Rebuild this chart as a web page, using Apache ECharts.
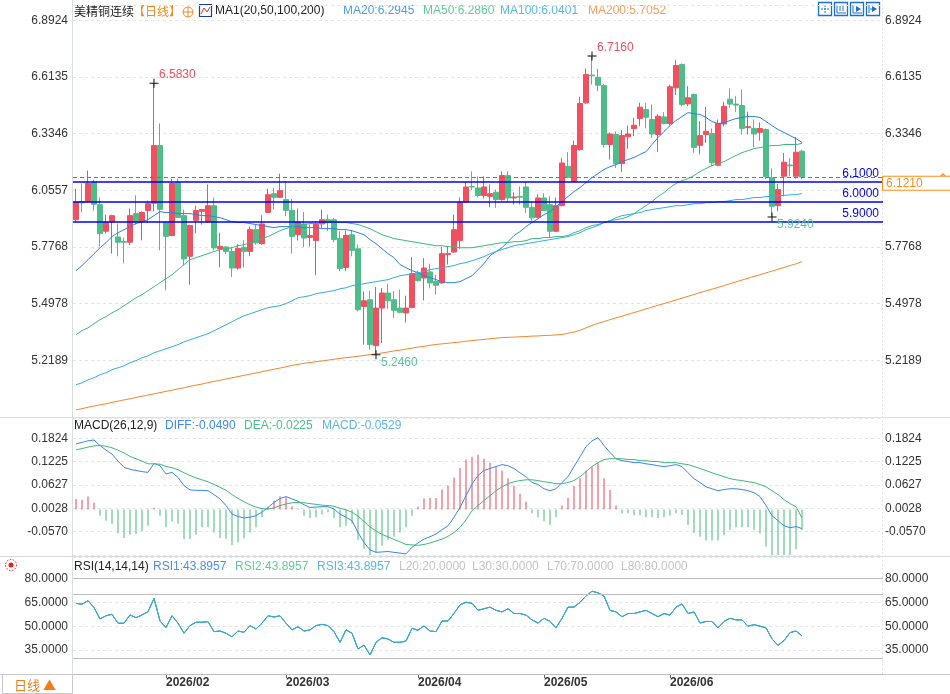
<!DOCTYPE html>
<html>
<head>
<meta charset="utf-8">
<script src="https://cdn.jsdelivr.net/npm/echarts@6/dist/echarts.min.js"></script>
<style>
html, body { margin: 0; padding: 0; background: #fff; }
#chart { width: 950px; height: 694px; }
</style>
</head>
<body>
<div id="chart"></div>
<script>
// ---------- data ----------
const slotCount = 135; // 122 trading days + empty space on the right
const monthTicks = [15, 35, 57, 78, 99];
const monthLabels = ['2026/02', '2026/03', '2026/04', '2026/05', '2026/06'];

const opens = [5.911, 6.000, 6.001, 6.095, 5.985, 5.854, 5.901, 5.826, 5.804, 5.800, 5.941, 5.901, 5.956, 5.992, 6.276, 5.898, 5.833, 6.095, 5.931, 5.731,
  5.908, 5.952, 5.901, 5.980, 5.767, 5.777, 5.755, 5.673, 5.775, 5.755, 5.862, 5.793, 5.947, 6.039, 6.021, 6.010, 5.957, 5.837, 5.890, 5.824,
  5.809, 5.890, 5.911, 5.911, 5.818, 5.676, 5.837, 5.768, 5.484, 5.517, 5.291, 5.476, 5.550, 5.517, 5.476, 5.452, 5.479, 5.645, 5.624, 5.654,
  5.607, 5.600, 5.740, 5.752, 5.809, 5.998, 6.075, 6.067, 6.030, 6.026, 6.046, 6.010, 6.128, 6.018, 6.026, 6.072, 5.972, 5.923, 6.018, 5.985,
  5.854, 5.980, 6.174, 6.100, 6.256, 6.486, 6.623, 6.612, 6.571, 6.281, 6.330, 6.187, 6.319, 6.360, 6.409, 6.453, 6.404, 6.330, 6.417, 6.384,
  6.560, 6.675, 6.481, 6.527, 6.277, 6.330, 6.335, 6.179, 6.382, 6.504, 6.480, 6.473, 6.364, 6.360, 6.341, 6.355, 6.117, 5.980, 6.125, 6.180,
  6.125, 6.248];
const closes = [5.997, 5.994, 6.089, 5.987, 5.842, 5.898, 5.931, 5.800, 5.800, 5.931, 5.901, 5.946, 5.990, 6.276, 5.962, 5.829, 6.089, 5.922, 5.718, 5.882,
  5.956, 5.961, 5.980, 5.772, 5.780, 5.755, 5.673, 5.770, 5.755, 5.862, 5.797, 5.890, 6.034, 6.021, 6.054, 5.957, 5.829, 5.900, 5.821, 5.833,
  5.890, 5.911, 5.900, 5.813, 5.670, 5.834, 5.760, 5.468, 5.512, 5.296, 5.476, 5.550, 5.512, 5.465, 5.455, 5.476, 5.645, 5.612, 5.673, 5.600,
  5.588, 5.744, 5.744, 5.862, 5.997, 6.072, 6.072, 6.030, 6.072, 6.039, 6.010, 6.128, 6.018, 6.023, 6.022, 5.972, 5.920, 6.018, 5.956, 5.854,
  5.980, 6.190, 6.120, 6.276, 6.483, 6.626, 6.619, 6.573, 6.281, 6.333, 6.187, 6.325, 6.333, 6.376, 6.465, 6.415, 6.333, 6.420, 6.384, 6.565,
  6.670, 6.478, 6.511, 6.267, 6.325, 6.346, 6.191, 6.384, 6.469, 6.480, 6.475, 6.360, 6.369, 6.333, 6.360, 6.122, 5.977, 6.059, 6.194, 6.176,
  6.243, 6.121];
const lows = [5.903, 5.949, 5.995, 5.956, 5.780, 5.842, 5.744, 5.731, 5.696, 5.785, 5.888, 5.809, 5.895, 5.952, 5.760, 5.563, 5.829, 5.920, 5.686, 5.591,
  5.844, 5.887, 5.895, 5.760, 5.676, 5.742, 5.629, 5.665, 5.676, 5.731, 5.788, 5.788, 5.944, 5.961, 6.018, 5.928, 5.744, 5.809, 5.777, 5.780,
  5.637, 5.870, 5.854, 5.800, 5.657, 5.657, 5.731, 5.460, 5.296, 5.271, 5.246, 5.304, 5.473, 5.427, 5.450, 5.405, 5.475, 5.605, 5.514, 5.573,
  5.542, 5.595, 5.690, 5.747, 5.767, 5.995, 6.056, 6.021, 6.015, 5.972, 5.969, 6.005, 6.000, 5.985, 5.985, 5.944, 5.906, 5.920, 5.953, 5.821,
  5.852, 5.977, 6.115, 6.095, 6.251, 6.481, 6.576, 6.543, 6.265, 6.207, 6.166, 6.146, 6.260, 6.322, 6.371, 6.360, 6.314, 6.245, 6.380, 6.376,
  6.524, 6.469, 6.470, 6.240, 6.232, 6.289, 6.174, 6.174, 6.370, 6.461, 6.440, 6.330, 6.330, 6.267, 6.300, 6.110, 5.924, 5.952, 6.026, 6.125,
  6.113, 6.110];
const highs = [6.063, 6.089, 6.153, 6.108, 6.020, 5.936, 5.936, 5.892, 5.823, 5.966, 6.031, 5.952, 6.005, 6.583, 6.384, 5.898, 6.113, 6.113, 5.961, 5.886,
  5.980, 5.961, 6.084, 6.020, 5.847, 5.780, 5.777, 5.792, 5.809, 5.878, 5.884, 5.933, 6.064, 6.067, 6.138, 6.100, 6.013, 5.966, 5.949, 5.887,
  5.903, 5.961, 5.936, 5.920, 5.854, 5.857, 5.860, 5.788, 5.558, 5.562, 5.580, 5.575, 5.596, 5.560, 5.567, 5.537, 5.728, 5.660, 5.722, 5.695,
  5.640, 5.778, 5.780, 5.936, 6.021, 6.097, 6.149, 6.125, 6.125, 6.084, 6.059, 6.149, 6.149, 6.046, 6.075, 6.095, 6.000, 6.036, 6.041, 6.026,
  6.020, 6.215, 6.243, 6.300, 6.516, 6.655, 6.716, 6.654, 6.580, 6.340, 6.345, 6.352, 6.374, 6.412, 6.486, 6.486, 6.478, 6.430, 6.440, 6.576,
  6.696, 6.680, 6.568, 6.532, 6.396, 6.466, 6.360, 6.404, 6.491, 6.557, 6.519, 6.552, 6.442, 6.404, 6.390, 6.360, 6.163, 6.087, 6.240, 6.215,
  6.319, 6.256];

const ma20 = [5.660, 5.685, 5.714, 5.744, 5.773, 5.798, 5.828, 5.847, 5.862, 5.877, 5.892, 5.901, 5.911, 5.931, 5.951, 5.946, 5.946, 5.941, 5.941, 5.941,
  5.936, 5.931, 5.931, 5.926, 5.921, 5.911, 5.901, 5.897, 5.897, 5.892, 5.887, 5.882, 5.877, 5.872, 5.877, 5.877, 5.877, 5.877, 5.872, 5.872,
  5.872, 5.867, 5.867, 5.867, 5.862, 5.862, 5.857, 5.847, 5.837, 5.813, 5.793, 5.768, 5.744, 5.724, 5.690, 5.675, 5.660, 5.650, 5.635, 5.626,
  5.616, 5.606, 5.601, 5.601, 5.606, 5.621, 5.635, 5.665, 5.695, 5.734, 5.754, 5.773, 5.803, 5.833, 5.852, 5.877, 5.897, 5.916, 5.936, 5.951,
  5.975, 6.000, 6.025, 6.049, 6.069, 6.094, 6.118, 6.138, 6.158, 6.172, 6.182, 6.197, 6.207, 6.217, 6.232, 6.246, 6.281, 6.315, 6.345, 6.374,
  6.399, 6.419, 6.438, 6.433, 6.429, 6.414, 6.394, 6.384, 6.389, 6.399, 6.409, 6.414, 6.419, 6.419, 6.414, 6.394, 6.374, 6.355, 6.340, 6.325,
  6.310, 6.291];
const ma50 = [5.345, 5.365, 5.379, 5.399, 5.419, 5.434, 5.453, 5.468, 5.488, 5.507, 5.527, 5.542, 5.562, 5.581, 5.601, 5.621, 5.640, 5.665, 5.690, 5.714,
  5.724, 5.734, 5.744, 5.754, 5.764, 5.768, 5.773, 5.783, 5.788, 5.798, 5.803, 5.818, 5.828, 5.842, 5.857, 5.867, 5.877, 5.887, 5.887, 5.892,
  5.892, 5.892, 5.897, 5.897, 5.897, 5.897, 5.892, 5.887, 5.877, 5.867, 5.852, 5.837, 5.828, 5.818, 5.813, 5.808, 5.803, 5.798, 5.793, 5.788,
  5.783, 5.783, 5.778, 5.778, 5.773, 5.773, 5.773, 5.778, 5.783, 5.788, 5.793, 5.798, 5.798, 5.803, 5.803, 5.808, 5.818, 5.818, 5.823, 5.823,
  5.828, 5.828, 5.833, 5.847, 5.857, 5.872, 5.882, 5.887, 5.897, 5.906, 5.911, 5.916, 5.926, 5.941, 5.961, 5.980, 6.000, 6.025, 6.044, 6.069,
  6.089, 6.103, 6.113, 6.128, 6.148, 6.163, 6.177, 6.187, 6.197, 6.212, 6.227, 6.241, 6.251, 6.261, 6.266, 6.271, 6.276, 6.276, 6.281, 6.281,
  6.281, 6.286];
const ma100 = [5.099, 5.108, 5.123, 5.133, 5.148, 5.158, 5.173, 5.182, 5.192, 5.207, 5.217, 5.232, 5.241, 5.256, 5.266, 5.276, 5.286, 5.296, 5.310, 5.320,
  5.330, 5.340, 5.350, 5.365, 5.379, 5.394, 5.409, 5.424, 5.438, 5.448, 5.458, 5.468, 5.478, 5.483, 5.488, 5.498, 5.512, 5.527, 5.532, 5.537,
  5.547, 5.552, 5.557, 5.562, 5.571, 5.576, 5.586, 5.591, 5.596, 5.601, 5.606, 5.611, 5.616, 5.626, 5.635, 5.640, 5.645, 5.650, 5.655, 5.665,
  5.670, 5.675, 5.680, 5.685, 5.695, 5.700, 5.709, 5.719, 5.729, 5.744, 5.754, 5.764, 5.773, 5.783, 5.788, 5.793, 5.798, 5.803, 5.808, 5.813,
  5.818, 5.823, 5.828, 5.837, 5.847, 5.862, 5.872, 5.882, 5.897, 5.906, 5.921, 5.931, 5.936, 5.941, 5.946, 5.956, 5.961, 5.966, 5.970, 5.975,
  5.980, 5.980, 5.985, 5.990, 5.990, 5.995, 5.995, 6.000, 6.000, 6.005, 6.010, 6.010, 6.015, 6.020, 6.020, 6.025, 6.025, 6.030, 6.030, 6.034,
  6.034, 6.040];
const ma200 = [4.975, 4.981, 4.988, 4.994, 5.000, 5.005, 5.012, 5.018, 5.024, 5.030, 5.036, 5.042, 5.048, 5.054, 5.060, 5.066, 5.072, 5.078, 5.084, 5.091,
  5.097, 5.102, 5.109, 5.115, 5.121, 5.127, 5.133, 5.139, 5.145, 5.151, 5.157, 5.163, 5.169, 5.175, 5.181, 5.187, 5.194, 5.199, 5.204, 5.208,
  5.212, 5.216, 5.220, 5.224, 5.228, 5.232, 5.235, 5.239, 5.243, 5.247, 5.251, 5.255, 5.260, 5.265, 5.269, 5.274, 5.279, 5.284, 5.288, 5.293,
  5.297, 5.300, 5.303, 5.306, 5.309, 5.313, 5.316, 5.319, 5.322, 5.325, 5.328, 5.331, 5.332, 5.333, 5.335, 5.336, 5.338, 5.339, 5.341, 5.342,
  5.344, 5.346, 5.352, 5.358, 5.367, 5.379, 5.390, 5.401, 5.410, 5.419, 5.428, 5.436, 5.445, 5.454, 5.463, 5.472, 5.481, 5.490, 5.498, 5.507,
  5.516, 5.525, 5.534, 5.543, 5.552, 5.561, 5.569, 5.578, 5.587, 5.596, 5.605, 5.614, 5.623, 5.632, 5.640, 5.649, 5.658, 5.667, 5.676, 5.685,
  5.694, 5.705];

const diff = [0.168, 0.172, 0.176, 0.178, 0.164, 0.152, 0.142, 0.124, 0.108, 0.103, 0.100, 0.097, 0.095, 0.118, 0.112, 0.091, 0.095, 0.082, 0.061, 0.050,
  0.049, 0.049, 0.048, 0.038, 0.027, 0.010, -0.012, -0.018, -0.022, -0.020, -0.016, -0.007, 0.005, 0.018, 0.028, 0.033, 0.027, 0.021, 0.012, 0.005,
  0.006, 0.007, 0.007, 0.001, -0.012, -0.020, -0.029, -0.059, -0.085, -0.104, -0.110, -0.109, -0.108, -0.110, -0.112, -0.114, -0.097, -0.086, -0.076, -0.070,
  -0.063, -0.052, -0.042, -0.020, 0.005, 0.035, 0.065, 0.087, 0.100, 0.105, 0.110, 0.115, 0.112, 0.105, 0.094, 0.084, 0.069, 0.064, 0.053, 0.048,
  0.053, 0.069, 0.084, 0.110, 0.135, 0.161, 0.176, 0.184, 0.164, 0.146, 0.130, 0.125, 0.123, 0.120, 0.120, 0.117, 0.115, 0.112, 0.110, 0.112,
  0.115, 0.110, 0.094, 0.079, 0.069, 0.058, 0.053, 0.048, 0.051, 0.053, 0.053, 0.051, 0.048, 0.043, 0.033, 0.010, -0.016, -0.029, -0.042, -0.047,
  -0.044, -0.049];
const dea = [0.153, 0.156, 0.160, 0.163, 0.164, 0.162, 0.158, 0.152, 0.145, 0.136, 0.130, 0.124, 0.117, 0.117, 0.116, 0.110, 0.107, 0.102, 0.094, 0.087,
  0.081, 0.076, 0.071, 0.064, 0.057, 0.049, 0.038, 0.028, 0.020, 0.012, 0.006, 0.002, 0.001, 0.004, 0.010, 0.014, 0.017, 0.018, 0.017, 0.015,
  0.013, 0.011, 0.010, 0.008, 0.003, -0.001, -0.007, -0.017, -0.031, -0.045, -0.055, -0.064, -0.070, -0.077, -0.083, -0.090, -0.091, -0.092, -0.090, -0.086,
  -0.081, -0.076, -0.069, -0.059, -0.046, -0.027, -0.003, 0.010, 0.023, 0.035, 0.048, 0.058, 0.066, 0.071, 0.074, 0.076, 0.076, 0.074, 0.071, 0.069,
  0.066, 0.066, 0.069, 0.074, 0.084, 0.097, 0.110, 0.120, 0.128, 0.130, 0.130, 0.130, 0.128, 0.128, 0.125, 0.125, 0.123, 0.123, 0.120, 0.120,
  0.120, 0.117, 0.115, 0.110, 0.105, 0.100, 0.094, 0.089, 0.084, 0.079, 0.076, 0.074, 0.071, 0.069, 0.064, 0.058, 0.048, 0.038, 0.025, 0.015,
  0.007, -0.022];
const macdHist = [0.027, 0.024, 0.033, 0.018, -0.016, -0.029, -0.037, -0.061, -0.073, -0.065, -0.063, -0.056, -0.042, 0.004, -0.016, -0.046, -0.031, -0.037, -0.076, -0.076,
  -0.065, -0.046, -0.046, -0.059, -0.073, -0.076, -0.091, -0.085, -0.074, -0.059, -0.046, -0.020, 0.006, 0.023, 0.034, 0.031, 0.008, 0.002, -0.016, -0.022,
  -0.020, -0.013, -0.007, -0.022, -0.046, -0.042, -0.037, -0.078, -0.101, -0.118, -0.110, -0.093, -0.078, -0.070, -0.059, -0.046, -0.016, 0.007, 0.028, 0.029,
  0.029, 0.051, 0.061, 0.082, 0.106, 0.128, 0.135, 0.140, 0.130, 0.120, 0.110, 0.100, 0.080, 0.060, 0.040, 0.020, -0.010, -0.020, -0.030, -0.040,
  -0.020, 0.010, 0.030, 0.060, 0.080, 0.100, 0.110, 0.120, 0.080, 0.050, 0.010, -0.010, -0.010, -0.015, -0.015, -0.020, -0.020, -0.022, -0.020, -0.016,
  -0.010, -0.014, -0.040, -0.060, -0.070, -0.080, -0.080, -0.080, -0.066, -0.052, -0.046, -0.046, -0.046, -0.052, -0.062, -0.096, -0.128, -0.134, -0.134, -0.124,
  -0.102, -0.053];

const rsi = [64.4, 63.8, 66.1, 61.7, 54.6, 56.6, 57.5, 51.9, 51.9, 57.1, 55.4, 57.1, 59.1, 67.5, 53.3, 49.1, 56.6, 51.9, 45.6, 50.4,
  52.5, 52.5, 52.9, 46.6, 47.0, 45.6, 43.4, 47.0, 46.2, 50.4, 48.3, 51.9, 56.6, 55.8, 56.6, 51.9, 47.7, 49.7, 47.0, 47.7,
  50.4, 51.2, 50.4, 46.6, 39.9, 47.7, 45.6, 35.7, 38.2, 32.0, 39.9, 42.8, 42.0, 39.9, 39.9, 40.7, 48.7, 47.5, 50.2, 47.0,
  46.6, 53.3, 53.3, 58.1, 63.4, 65.1, 64.4, 60.0, 61.0, 62.0, 60.0, 59.0, 61.0, 58.0, 58.0, 57.0, 54.0, 52.0, 55.0, 53.0,
  49.0, 55.0, 62.0, 62.0, 65.0, 69.0, 72.0, 71.0, 69.0, 60.0, 59.0, 56.0, 58.0, 58.0, 59.0, 60.0, 58.0, 56.0, 58.0, 57.0,
  62.0, 64.0, 58.0, 59.0, 52.0, 53.0, 53.0, 49.0, 53.0, 55.0, 54.0, 54.0, 50.0, 51.0, 50.0, 49.0, 42.0, 38.0, 41.0, 46.0,
  47.0, 43.9];

const levels = [6.1, 6.0, 5.9];
const rsiLevels = [20, 30, 70, 80];

// ---------- chart ----------
const NUM = '"Liberation Sans", Arial, sans-serif';
const CJK = '"Noto Sans CJK SC", sans-serif';
const UP = '#f0505f', DOWN = '#4fbd8a';
const GL = 73, GW = 810;
const cats = Array.from({ length: slotCount }, (_, i) => String(i));
const kdata = opens.map((o, i) => [o, closes[i], lows[i], highs[i]]);

function argIdx(arr, from, to, cmp) {
  let best = from;
  for (let i = from; i < to; i++) if (cmp(arr[i], arr[best])) best = i;
  return best;
}
const hiAll = argIdx(highs, 0, highs.length, (a, b) => a > b);
const loAll = argIdx(lows, 0, lows.length, (a, b) => a < b);
const hiEarly = argIdx(highs, 0, 40, (a, b) => a > b);
const loLate = argIdx(lows, 110, lows.length, (a, b) => a < b);
const lastClose = closes[closes.length - 1];

const cross = 'path://M0,4L9,4L9,5L0,5Z M4,0L5,0L5,9L4,9Z';
function extremePoint(idx, val, up) {
  return {
    coord: [idx, val], value: val,
    label: {
      show: true, formatter: val.toFixed(4), position: up ? [9.5, -9.5] : [9.5, 6.5],
      color: up ? '#f0505f' : '#5cc4a0', fontSize: 12, fontFamily: NUM
    }
  };
}

// hideNear: the right price axis drops the label that would sit under the last-price tag
function valueAxis(grid, pos, min, max, interval, digits, split, hideNear) {
  return {
    type: 'value', gridIndex: grid, position: pos, min: min, max: max, interval: interval, scale: true,
    axisLine: { show: false }, axisTick: { show: false },
    axisLabel: {
      color: '#333', fontSize: 12, fontFamily: NUM, margin: pos === 'left' ? 5 : 2,
      showMinLabel: false, showMaxLabel: false,
      formatter: v => (hideNear != null && Math.abs(v - hideNear) < 0.09 ? '' : v.toFixed(digits))
    },
    splitLine: { show: split, lineStyle: { color: '#e4e4e4', type: [3, 3] } }
  };
}

function catAxis(grid) {
  const bottom = grid === 2;
  return {
    type: 'category', gridIndex: grid, data: cats, boundaryGap: true,
    axisLine: { show: bottom, lineStyle: { color: '#c9c9c9' } },
    axisTick: { show: bottom, alignWithLabel: true, length: 4, interval: i => monthTicks.includes(i), lineStyle: { color: '#666' } },
    axisLabel: {
      show: bottom, interval: i => monthTicks.includes(i), align: 'left', margin: 3,
      formatter: (v, i) => monthLabels[monthTicks.indexOf(i)] || '',
      color: '#333', fontWeight: 'bold', fontSize: 12, fontFamily: NUM
    },
    splitLine: { show: false }
  };
}

function lineSeries(name, data, color, xi, yi) {
  return {
    name: name, type: 'line', data: data, xAxisIndex: xi, yAxisIndex: yi,
    symbol: 'none', smooth: false, silent: true,
    lineStyle: { color: color, width: 1 }
  };
}

function txt(x, y, s, color, size, font) {
  return { type: 'text', x: x, y: y, silent: true,
    style: { text: s, fill: color, font: (size || 12) + 'px ' + (font || NUM), textVerticalAlign: 'middle' } };
}

const chart = echarts.init(document.getElementById('chart'));
chart.setOption({
  animation: false,
  backgroundColor: '#fff',
  grid: [
    { left: GL, top: 5, width: GW, height: 412 },
    { left: GL, top: 418, width: GW, height: 137 },
    { left: GL, top: 557, width: GW, height: 117 }
  ],
  xAxis: [catAxis(0), catAxis(1), catAxis(2)],
  yAxis: [
    valueAxis(0, 'left', 4.94, 6.9676, 0.27892, 4, true),
    valueAxis(0, 'right', 4.94, 6.9676, 0.27892, 4, false, lastClose),
    valueAxis(1, 'left', -0.11687, 0.2345, 0.05985, 4, true),
    valueAxis(1, 'right', -0.11687, 0.2345, 0.05985, 4, false),
    valueAxis(2, 'left', 20, 93.5, 15, 4, true),
    valueAxis(2, 'right', 20, 93.5, 15, 4, false)
  ],
  series: [
    {
      type: 'candlestick', data: kdata, xAxisIndex: 0, yAxisIndex: 0, barWidth: 5, silent: true,
      itemStyle: { color: UP, color0: DOWN, borderColor: UP, borderColor0: DOWN, borderWidth: 1 },
      markPoint: {
        symbol: cross, symbolSize: 9, silent: true,
        itemStyle: { color: '#111' },
        data: [
          extremePoint(hiEarly, highs[hiEarly], true),
          extremePoint(hiAll, highs[hiAll], true),
          extremePoint(loAll, lows[loAll], false),
          extremePoint(loLate, lows[loLate], false)
        ]
      },
      markLine: {
        symbol: ['none', 'none'], silent: true,
        data: levels.map(v => ({
          yAxis: v,
          lineStyle: { color: '#0000f0', width: 1.6, type: 'solid' },
          label: { show: true, position: 'insideEndTop', distance: [4, 2], formatter: v.toFixed(4), color: '#0000f0', fontSize: 12, fontFamily: NUM }
        })).concat([{
          yAxis: lastClose,
          lineStyle: { color: '#3a7ff0', width: 1, type: [4, 3] },
          label: {
            show: true, position: 'end', distance: 0, offset: [0, 6], formatter: lastClose.toFixed(4),
            color: '#ff8c1a', fontSize: 12, fontFamily: NUM,
            backgroundColor: '#fff', borderColor: '#ff8c1a', borderWidth: 1, padding: [1, 34, 0, 3]
          }
        }])
      }
    },
    lineSeries('MA20', ma20, '#2f80e6', 0, 0),
    lineSeries('MA50', ma50, '#3fb97f', 0, 0),
    lineSeries('MA100', ma100, '#33aee8', 0, 0),
    lineSeries('MA200', ma200, '#f7862f', 0, 0),
    {
      type: 'bar', data: macdHist, xAxisIndex: 1, yAxisIndex: 2, barWidth: 1, silent: true,
      itemStyle: { color: p => (p.value >= 0 ? '#ee4455' : '#45b97c') }
    },
    lineSeries('DIFF', diff, '#3a86ec', 1, 2),
    lineSeries('DEA', dea, '#3fb97a', 1, 2),
    lineSeries('RSI1', rsi, '#3a86ec', 2, 4),
    lineSeries('RSI2', rsi, '#3fb97a', 2, 4),
    Object.assign(lineSeries('RSI3', rsi, '#36a9e1', 2, 4), {
      markLine: {
        symbol: ['none', 'none'], silent: true, label: { show: false },
        lineStyle: { color: '#bdbdbd', width: 1, type: 'solid' },
        data: rsiLevels.map(v => ({ yAxis: v }))
      }
    })
  ],
  graphic: [
    // frame lines
    { type: 'line', silent: true, shape: { x1: 72.5, y1: 0, x2: 72.5, y2: 694 }, style: { stroke: '#d8dde2' } },
    { type: 'line', silent: true, shape: { x1: 0, y1: 417.5, x2: 950, y2: 417.5 }, style: { stroke: '#d8dde2' } },
    { type: 'line', silent: true, shape: { x1: 0, y1: 556.5, x2: 950, y2: 556.5 }, style: { stroke: '#d8dde2' } },
    { type: 'line', silent: true, shape: { x1: 0, y1: 674.5, x2: 950, y2: 674.5 }, style: { stroke: '#c9c9c9' } },
    { type: 'line', silent: true, shape: { x1: 882.5, y1: 0, x2: 882.5, y2: 674 }, style: { stroke: '#e6e6e6', lineDash: [2, 2] } },
    { type: 'rect', silent: true, shape: { x: 2.5, y: 674.5, width: 70, height: 19 }, style: { fill: '#fff', stroke: '#c9c9c9' } },
    txt(14, 685, '日线 ▲', '#f07d18', 13, CJK),

    // main header
    txt(74, 11, '美精铜连续', '#222', 12, CJK),
    txt(133, 11, '【日线】', '#f08a24', 12, CJK),
    { type: 'circle', silent: true, shape: { cx: 188, cy: 12, r: 5 }, style: { fill: 'none', stroke: '#f08a24' } },
    { type: 'line', silent: true, shape: { x1: 183, y1: 12, x2: 193, y2: 12 }, style: { stroke: '#f08a24' } },
    { type: 'line', silent: true, shape: { x1: 188, y1: 7, x2: 188, y2: 17 }, style: { stroke: '#f08a24' } },
    { type: 'rect', silent: true, shape: { x: 199.5, y: 4.5, width: 12, height: 12 }, style: { fill: '#fff', stroke: '#1c3f9c', lineWidth: 1.2 } },
    { type: 'polyline', silent: true, shape: { points: [[201, 14], [204, 8], [207, 12], [210, 7]] }, style: { stroke: '#e23030', fill: 'none' } },
    txt(215, 11, 'MA1(20,50,100,200)', '#222', 12),
    txt(343, 11, 'MA20:6.2945', '#4b9cf2', 12),
    txt(423, 11, 'MA50:6.2860', '#62cc95', 12),
    txt(500, 11, 'MA100:6.0401', '#5ab5ea', 12),
    txt(588, 11, 'MA200:5.7052', '#f59d5c', 12),

    // toolbar icons
    ...[818, 834, 850, 866].map(x => ({ type: 'rect', silent: true, shape: { x: x + 0.5, y: 2.5, width: 13, height: 13 }, style: { fill: '#fff', stroke: '#1d6fd6', lineWidth: 1.3 } })),
    { type: 'line', silent: true, shape: { x1: 821, y1: 9, x2: 829, y2: 9 }, style: { stroke: '#1d6fd6', lineDash: [2, 1] } },
    { type: 'line', silent: true, shape: { x1: 825, y1: 5, x2: 825, y2: 13 }, style: { stroke: '#1d6fd6', lineDash: [2, 1] } },
    { type: 'polyline', silent: true, shape: { points: [[837, 5], [837, 13], [846, 13]] }, style: { stroke: '#1d6fd6', fill: 'none' } },
    { type: 'line', silent: true, shape: { x1: 840, y1: 6, x2: 840, y2: 11 }, style: { stroke: '#1d6fd6' } },
    { type: 'line', silent: true, shape: { x1: 843, y1: 6, x2: 843, y2: 11 }, style: { stroke: '#1d6fd6' } },
    { type: 'polyline', silent: true, shape: { points: [[853, 5], [853, 13], [862, 13]] }, style: { stroke: '#1d6fd6', fill: 'none' } },
    { type: 'polygon', silent: true, shape: { points: [[856, 6], [861, 9], [856, 12]] }, style: { fill: '#1d6fd6' } },
    { type: 'line', silent: true, shape: { x1: 869, y1: 5, x2: 869, y2: 13 }, style: { stroke: '#1d6fd6' } },
    { type: 'polygon', silent: true, shape: { points: [[872, 6], [877, 9], [872, 12]] }, style: { fill: '#1d6fd6' } },
    { type: 'line', silent: true, shape: { x1: 870, y1: 9, x2: 873, y2: 9 }, style: { stroke: '#1d6fd6' } },

    // price-tag arrow
    { type: 'polyline', silent: true, shape: { points: [[939, 178], [943, 174], [947, 178]] }, style: { stroke: '#ff8c1a', fill: 'none', lineWidth: 1.3 } },
    { type: 'polyline', silent: true, shape: { points: [[939, 182], [943, 178], [947, 182]] }, style: { stroke: '#ff8c1a', fill: 'none', lineWidth: 1.3 } },

    // MACD header
    txt(74, 426, 'MACD(26,12,9)', '#222', 12),
    txt(165, 426, 'DIFF:-0.0490', '#3d8af0', 12),
    txt(244, 426, 'DEA:-0.0225', '#4cc08a', 12),
    txt(322, 426, 'MACD:-0.0529', '#59b6ee', 12),

    // RSI header
    { type: 'circle', silent: true, shape: { cx: 11, cy: 565, r: 2.5 }, style: { fill: '#e8231a' } },
    { type: 'circle', silent: true, shape: { cx: 11, cy: 565, r: 5.5 }, style: { fill: 'none', stroke: '#e8231a', lineDash: [1.5, 1.5] } },
    txt(74, 567, 'RSI(14,14,14)', '#222', 12),
    txt(153, 567, 'RSI1:43.8957', '#4b8ff0', 12),
    txt(235, 567, 'RSI2:43.8957', '#62cc95', 12),
    txt(317, 567, 'RSI3:43.8957', '#5ab5ea', 12),
    txt(399, 567, 'L20:20.0000', '#c4c4c4', 12),
    txt(472, 567, 'L30:30.0000', '#c4c4c4', 12),
    txt(547, 567, 'L70:70.0000', '#c4c4c4', 12),
    txt(621, 567, 'L80:80.0000', '#c4c4c4', 12)
  ]
});
</script>
</body>
</html>
